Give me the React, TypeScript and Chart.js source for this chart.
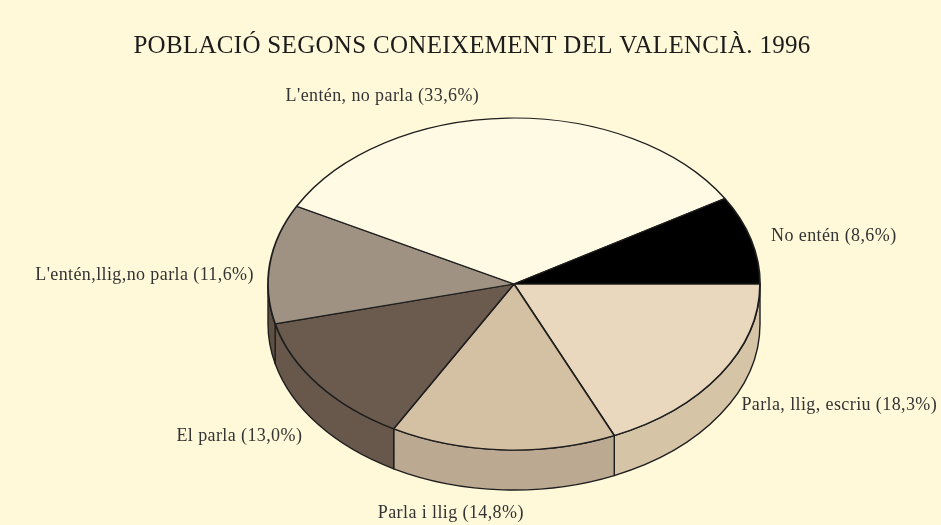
import React, { useEffect, useRef } from "react";
import { Chart, registerables } from "chart.js";

Chart.register(...registerables);

// Data (clockwise from 3 o'clock)
const categories = [
  "Parla, llig, escriu",
  "Parla i llig",
  "El parla",
  "L'entén,llig,no parla",
  "L'entén, no parla",
  "No entén",
];
const percentages = [18.3, 14.8, 13.0, 11.6, 33.6, 8.6];
const titleText = "POBLACIÓ SEGONS CONEIXEMENT DEL VALENCIÀ. 1996";

// Styles
const topColors = ["#E9D8BD", "#D4C1A4", "#6A5B4E", "#A09283", "#FFFAE4", "#000000"];
const sideColors = ["#D6C4A7", "#BCA992", "#67584B", "#5E5042", "#F0E8CC", "#000000"];
const labelOffsets = [
  [21, -9],
  [-52, 23],
  [-16, 12],
  [-16, 12],
  [-125, -22],
  [20, -3],
];
const BG = "#FFF9DA";
const TILT = 166 / 246;
const DEPTH = 40;

const fmt = (v: number) => v.toFixed(1).replace(".", ",");

const pie3d = {
  id: "pie3d",
  beforeDraw(chart: any) {
    const ctx = chart.ctx;
    ctx.save();
    ctx.fillStyle = BG;
    ctx.fillRect(0, 0, chart.width, chart.height);
    ctx.fillStyle = "#1c1c1c";
    ctx.font = "25px 'Liberation Serif'";
    (ctx as any).letterSpacing = "0.3px";
    ctx.textAlign = "center";
    ctx.textBaseline = "middle";
    ctx.fillText(titleText, 472, 46);
    ctx.restore();
  },
  beforeDatasetsDraw(chart: any) {
    const ctx = chart.ctx;
    const meta = chart.getDatasetMeta(0);
    let cy = 0;
    meta.data.forEach((arc: any, i: number) => {
      const p = arc.getProps(["x", "y", "startAngle", "endAngle", "outerRadius"], true);
      cy = p.y;
      const a1 = Math.max(p.startAngle, 0);
      const a2 = Math.min(p.endAngle, Math.PI);
      if (a2 <= a1) return;
      const rx = p.outerRadius;
      const ry = p.outerRadius * TILT;
      ctx.save();
      ctx.beginPath();
      ctx.ellipse(p.x, p.y, rx, ry, 0, a1, a2);
      ctx.lineTo(p.x + rx * Math.cos(a2), p.y + ry * Math.sin(a2) + DEPTH);
      ctx.ellipse(p.x, p.y + DEPTH, rx, ry, 0, a2, a1, true);
      ctx.closePath();
      ctx.fillStyle = sideColors[i];
      ctx.fill();
      ctx.lineWidth = 1.4;
      ctx.strokeStyle = "#1e1e1e";
      ctx.lineJoin = "round";
      ctx.stroke();
      ctx.restore();
    });
    ctx.save();
    ctx.translate(0, cy);
    ctx.scale(1, TILT);
    ctx.translate(0, -cy);
  },
  afterDatasetsDraw(chart: any) {
    const ctx = chart.ctx;
    ctx.restore();
    const meta = chart.getDatasetMeta(0);
    ctx.save();
    ctx.font = "18px 'Liberation Serif'";
    (ctx as any).letterSpacing = "0.4px";
    ctx.fillStyle = "#333333";
    ctx.textBaseline = "middle";
    meta.data.forEach((arc: any, i: number) => {
      const p = arc.getProps(["x", "y", "startAngle", "endAngle", "outerRadius"], true);
      const m = (p.startAngle + p.endAngle) / 2;
      const c = Math.cos(m);
      const s = Math.sin(m);
      let px = p.x + p.outerRadius * c;
      let py = p.y + p.outerRadius * TILT * s + (s > 0 ? DEPTH : 0);
      ctx.textAlign = c > 0.1 ? "left" : c < -0.1 ? "right" : "center";
      px += labelOffsets[i][0];
      py += labelOffsets[i][1];
      ctx.fillText(`${categories[i]} (${fmt(percentages[i])}%)`, px, py);
    });
    ctx.restore();
  },
};

export default function App() {
  const ref = useRef<HTMLCanvasElement>(null);
  useEffect(() => {
    if (!ref.current) return;
    const chart = new Chart(ref.current, {
      type: "pie",
      data: {
        labels: categories,
        datasets: [
          {
            data: percentages,
            backgroundColor: topColors,
            borderColor: "#1e1e1e",
            borderWidth: 1.8,
            hoverOffset: 0,
            clip: false,
          } as any,
        ],
      },
      options: {
        responsive: false,
        animation: false,
        events: [],
        rotation: 90,
        radius: 246,
        layout: { padding: { left: 87, right: 0, top: 43, bottom: 0 } },
        plugins: {
          legend: { display: false },
          title: { display: false },
          tooltip: { enabled: false },
        },
      } as any,
      plugins: [pie3d],
    });
    return () => chart.destroy();
  }, []);
  return (
    <div style={{ position: "absolute", left: 0, top: 0, width: 941, height: 525 }}>
      <canvas ref={ref} width={941} height={525} />
    </div>
  );
}
